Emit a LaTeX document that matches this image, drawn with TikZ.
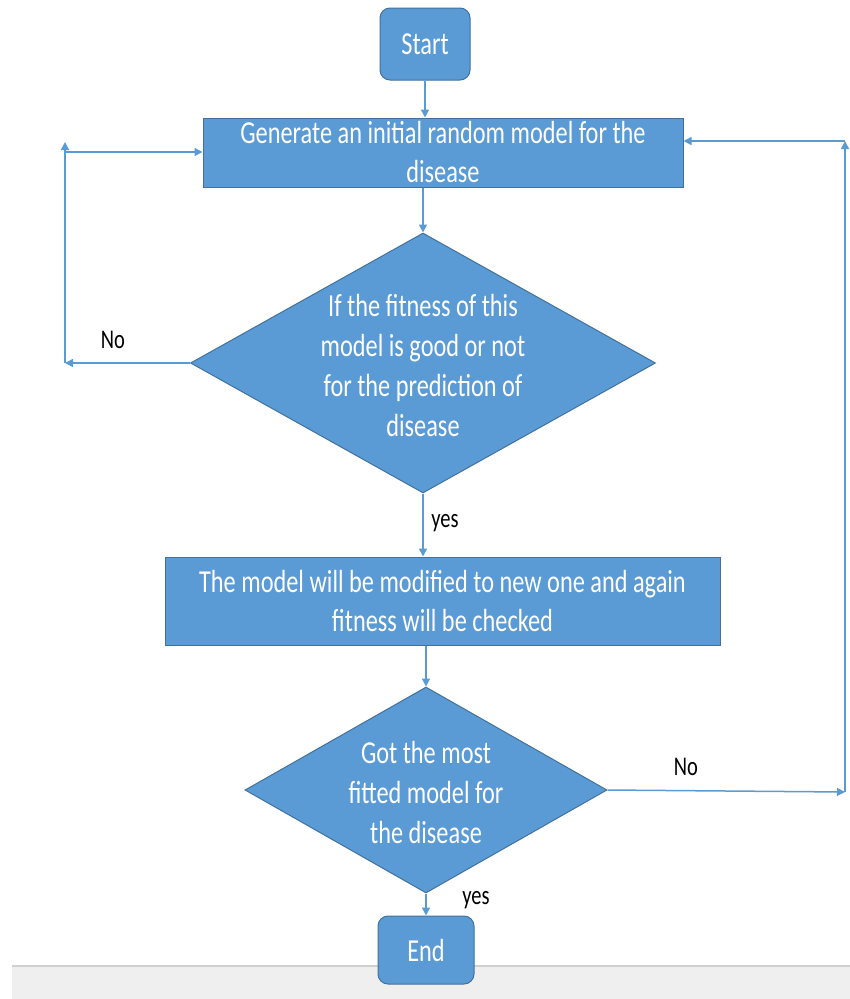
\documentclass[tikz,border=0pt]{standalone}
\usepackage{fontspec}
\setmainfont{Carlito}[FakeStretch=0.76]
\usetikzlibrary{shapes.geometric,arrows.meta}
\definecolor{boxblue}{HTML}{5B9BD5}
\definecolor{boxedge}{HTML}{41719C}
\definecolor{stripgray}{HTML}{EFEFEF}
\definecolor{stripline}{HTML}{D0D0D0}
\begin{document}
\begin{tikzpicture}[x=1pt,y=-1pt,
  flowbox/.style={draw=boxedge, line width=1pt, fill=boxblue, inner sep=0pt, text=white, font=\fontsize{32}{39}\selectfont, align=center},
  termbox/.style={flowbox, rounded corners=10pt},
  decision/.style={draw=boxedge, line width=1pt, fill=boxblue, diamond, inner sep=0pt},
  decisiontext/.style={text=white, inner sep=0pt, font=\fontsize{32}{40}\selectfont, align=center},
  flowarrow/.style={draw=boxblue, line width=1.5pt, -{Triangle[width=8pt,length=8pt]}},
  lbl/.style={text=black, inner sep=0pt, font=\fontsize{27}{32}\selectfont}
]
\useasboundingbox (0,0) rectangle (850,999);
\fill[white] (0,0) rectangle (850,999);
\fill[stripgray] (12,966) rectangle (850,999);
\draw[stripline, line width=2pt] (12,966) -- (850,966);

\node[termbox, minimum width=90pt, minimum height=72pt] (start) at (425,44) {Start};
\node[flowbox, minimum width=480pt, minimum height=69pt] (box1) at (443,152.5) {Generate an initial random model for the\\disease};
\node[decision, minimum width=465pt, minimum height=260pt] (d1) at (423,363) {};
\node[decisiontext] (d1t) at (423,366) {If the fitness of this\\model is good or not\\for the prediction of\\disease};
\node[flowbox, minimum width=555pt, minimum height=88pt] (box2) at (442.5,601) {The model will be modified to new one and again\\fitness will be checked};
\node[decision, minimum width=362pt, minimum height=206pt] (d2) at (426,790) {};
\node[decisiontext] (d2t) at (426,792) {Got the most\\fitted model for\\the disease};
\node[termbox, minimum width=96pt, minimum height=68pt] (end) at (426,950) {End};

\coordinate (lb) at (65,363);
\coordinate (lt) at (65,142);
\coordinate (lm) at (65,152);
\coordinate (rb) at (845,792);
\coordinate (rt) at (845,141);

\draw[flowarrow] (start.south) -- (start.south |- box1.north);
\draw[flowarrow] (box1.south -| d1.north) -- (d1.north);
\draw[flowarrow] (d1.south) -- (d1.south |- box2.north);
\draw[flowarrow] (box2.south -| d2.north) -- (d2.north);
\draw[flowarrow] (d2.south) -- (d2.south |- end.north);

\draw[flowarrow] (d1.west) -- (lb);
\draw[flowarrow] (lb) -- (lt);
\draw[flowarrow] (lm) -- (lm -| box1.west);

\draw[flowarrow] (d2.east) -- (rb);
\draw[flowarrow] (rb) -- (rt);
\draw[flowarrow] (rt) -- (rt -| box1.east);

\node[lbl] (no1) at (113,340) {No};
\node[lbl] (yes1) at (445,523) {yes};
\node[lbl] (no2) at (686,767) {No};
\node[lbl] (yes2) at (476,900) {yes};
\end{tikzpicture}
\end{document}
